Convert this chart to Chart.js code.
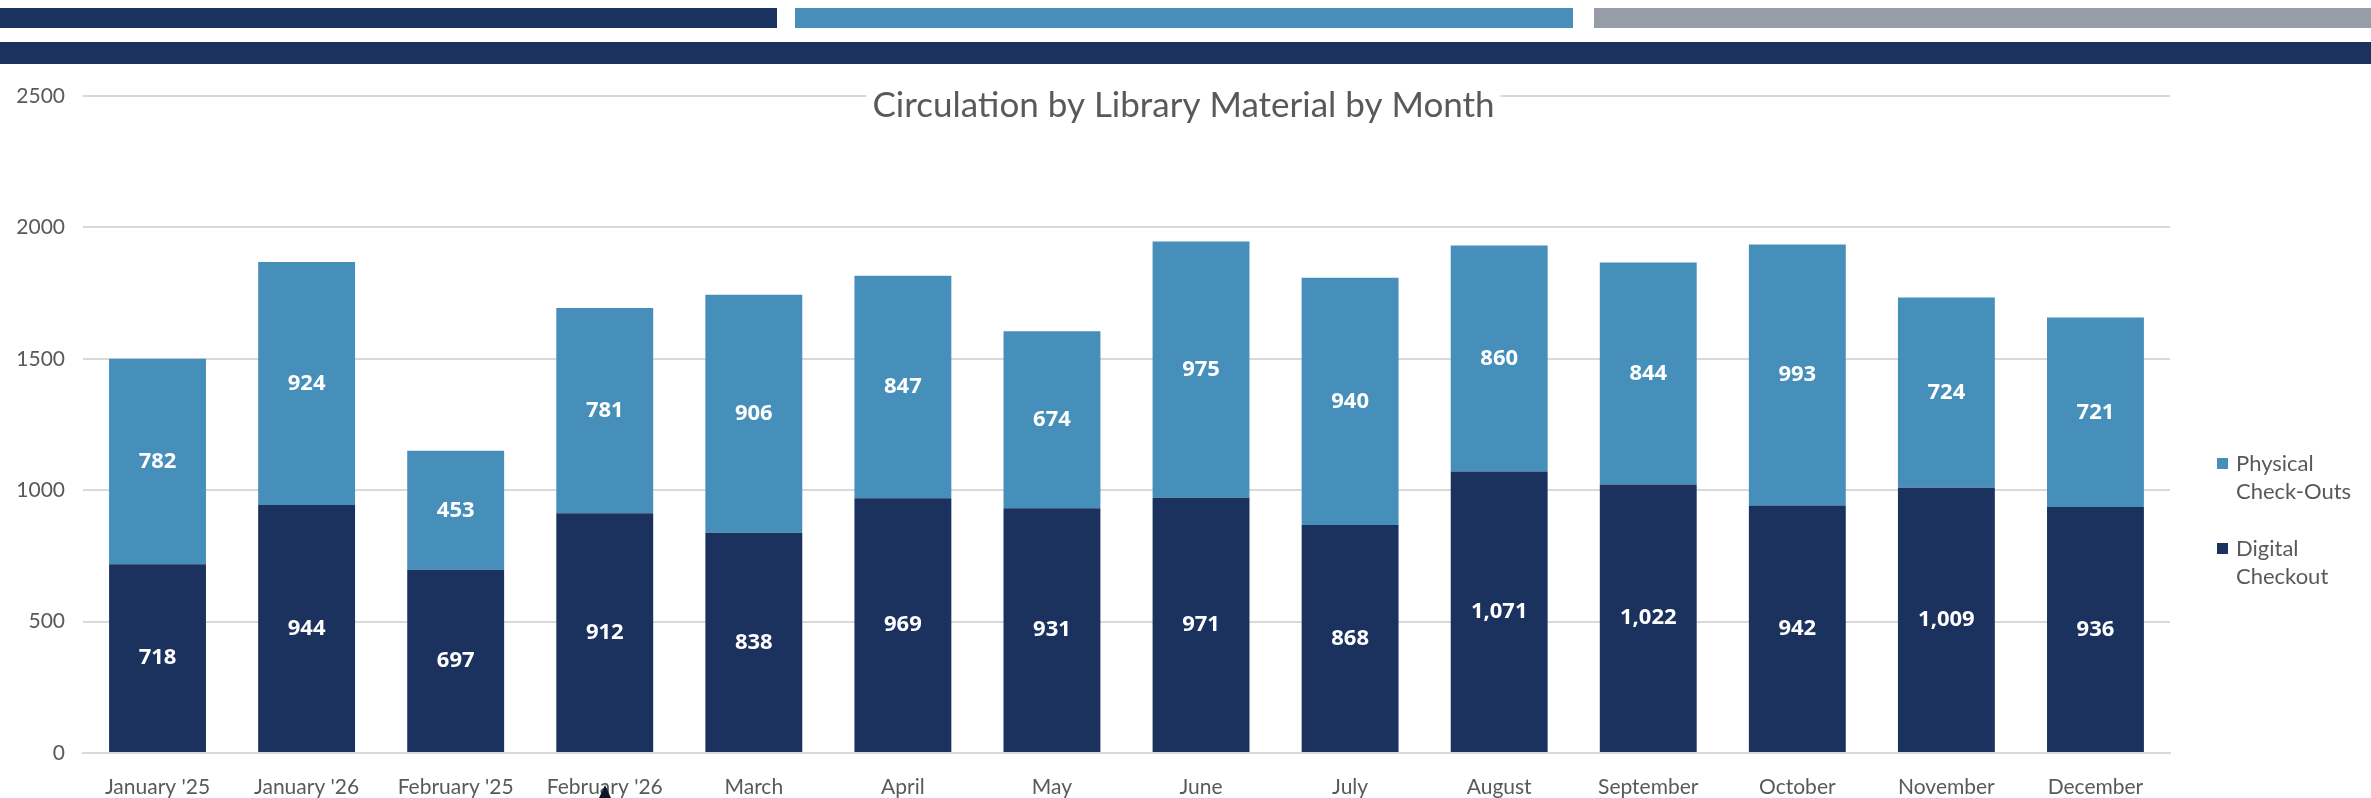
<!DOCTYPE html>
<html>
<head>
<meta charset="utf-8">
<script src="https://cdn.jsdelivr.net/npm/chart.js@4"></script>
<style>
    html, body { margin: 0; padding: 0; background: #ffffff; }
    body { width: 2371px; height: 798px; position: relative; overflow: hidden; }
    .band { position: absolute; }
    #chartBox { position: absolute; left: 0; top: 64px; width: 2371px; height: 734px; }
</style>
</head>
<body>
<div class="band" style="left:0;top:8px;width:777px;height:20px;background:#1b325f"></div>
<div class="band" style="left:795px;top:8px;width:778px;height:20px;background:#468fba"></div>
<div class="band" style="left:1594px;top:8px;width:777px;height:20px;background:#979da7"></div>
<div class="band" style="left:0;top:42px;width:2371px;height:22px;background:#1b325f"></div>
<div id="chartBox"><canvas id="circChart"></canvas></div>
<script>
// chart data
const months = ["January '25", "January '26", "February '25", "February '26", 'March', 'April', 'May',
    'June', 'July', 'August', 'September', 'October', 'November', 'December'];
const digitalCheckout = [718, 944, 697, 912, 838, 969, 931, 971, 868, 1071, 1022, 942, 1009, 936];
const physicalCheckOuts = [782, 924, 453, 781, 906, 847, 674, 975, 940, 860, 844, 993, 724, 721];
const yTicks = [0, 500, 1000, 1500, 2000, 2500];

const NAVY = '#1b325f';
const BLUE = '#468fba';
const GREY_TEXT = '#595959';
const FONT = 'Lato, "Open Sans", sans-serif';

// white value labels in the middle of each segment
const valueLabels = {
    id: 'valueLabels',
    afterDatasetsDraw(chart) {
        const ctx = chart.ctx;
        ctx.save();
        ctx.fillStyle = '#ffffff';
        ctx.font = 'bold 22px "Open Sans", sans-serif';
        ctx.textAlign = 'center';
        ctx.textBaseline = 'middle';
        chart.data.datasets.forEach((ds, i) => {
            chart.getDatasetMeta(i).data.forEach((bar, j) => {
                const mid = (bar.y + bar.base) / 2;
                ctx.fillText(ds.data[j].toLocaleString('en-US'), bar.x, mid);
            });
        });
        ctx.restore();
    }
};

// title over the plot, legend on the right, mouse pointer
const overlay = {
    id: 'overlay',
    afterDraw(chart) {
        const ctx = chart.ctx;
        const area = chart.chartArea;
        ctx.save();

        // title with white box over the top gridline
        const title = 'Circulation by Library Material by Month';
        ctx.font = '35px ' + FONT;
        const tw = ctx.measureText(title).width;
        const cx = chart.width / 2 - 2;
        ctx.fillStyle = '#ffffff';
        ctx.fillRect(cx - tw / 2 - 6, area.top - 6, tw + 12, 44);
        ctx.fillStyle = GREY_TEXT;
        ctx.textAlign = 'center';
        ctx.textBaseline = 'alphabetic';
        ctx.fillText(title, cx, area.top + 21);

        // legend
        const items = [
            { color: BLUE, lines: ['Physical', 'Check-Outs'] },
            { color: NAVY, lines: ['Digital', 'Checkout'] }
        ];
        ctx.font = '22px ' + FONT;
        ctx.textAlign = 'left';
        let y = 394;
        items.forEach(it => {
            ctx.fillStyle = it.color;
            ctx.fillRect(area.right + 47, y, 11, 11);
            ctx.fillStyle = GREY_TEXT;
            it.lines.forEach((ln, k) => {
                ctx.fillText(ln, area.right + 66, y + 13 + k * 28);
            });
            y += 85;
        });

        // mouse pointer left in the screenshot
        ctx.fillStyle = '#0d1626';
        ctx.beginPath();
        ctx.moveTo(605, 721);
        ctx.lineTo(599, 734);
        ctx.lineTo(611, 734);
        ctx.closePath();
        ctx.fill();
        ctx.restore();
    }
};

new Chart(document.getElementById('circChart').getContext('2d'), {
    type: 'bar',
    data: {
        labels: months,
        datasets: [{
            label: 'Digital Checkout',
            data: digitalCheckout,
            backgroundColor: NAVY,
            categoryPercentage: 1,
            barPercentage: 0.65
        }, {
            label: 'Physical Check-Outs',
            data: physicalCheckOuts,
            backgroundColor: BLUE,
            categoryPercentage: 1,
            barPercentage: 0.65
        }]
    },
    options: {
        responsive: true,
        maintainAspectRatio: false,
        animation: false,
        layout: { padding: { top: 32, right: 201, left: 0, bottom: 0 } },
        plugins: {
            legend: { display: false },
            tooltip: { enabled: false }
        },
        scales: {
            x: {
                stacked: true,
                grid: { display: false, drawTicks: false },
                border: { color: '#d9d9d9', width: 2 },
                ticks: { color: GREY_TEXT, font: { family: FONT, size: 21 }, padding: 22, maxRotation: 0, autoSkip: false },
                afterFit(scale) { scale.height = 45; }
            },
            y: {
                stacked: true,
                min: 0,
                max: 2500,
                afterBuildTicks(scale) { scale.ticks = yTicks.map(v => ({ value: v })); },
                grid: { color: '#d9d9d9', lineWidth: 2, drawTicks: false },
                border: { display: false },
                ticks: {
                    color: GREY_TEXT,
                    font: { family: FONT, size: 21 },
                    padding: 18,
                    callback: v => String(v)
                },
                afterFit(scale) { scale.width = 83; }
            }
        }
    },
    plugins: [valueLabels, overlay]
});
</script>
</body>
</html>
